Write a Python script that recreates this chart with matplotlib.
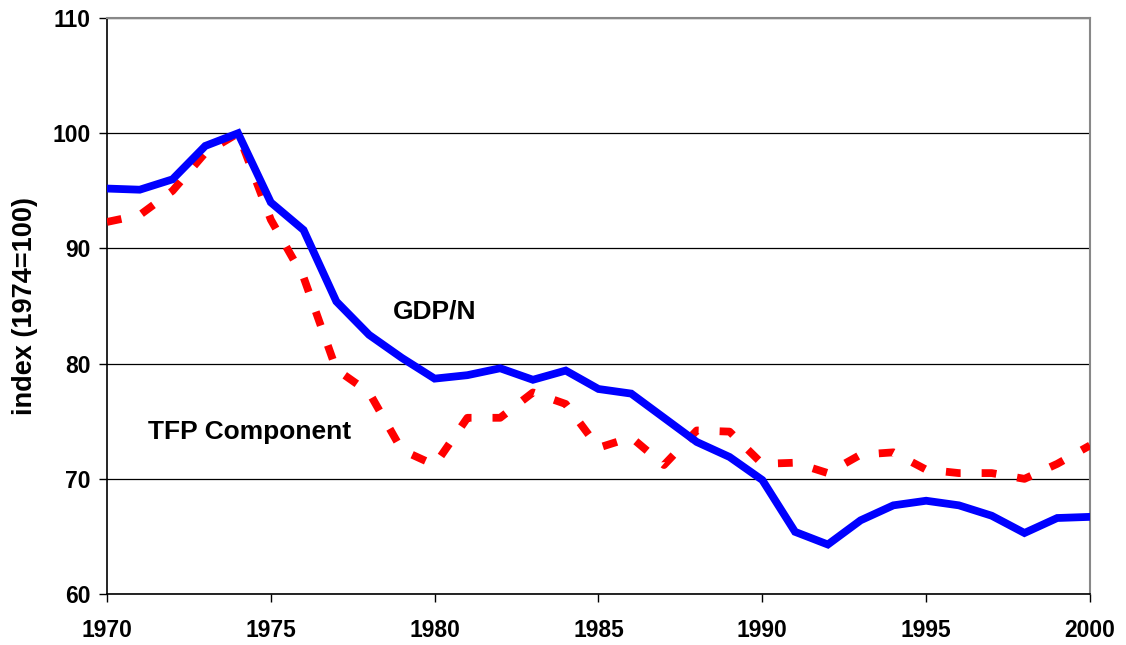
import matplotlib.pyplot as plt
import numpy as np

plt.rcParams['font.family'] = ['Liberation Sans', 'DejaVu Sans']

years = np.arange(1970, 2001)

# real GDP per capita relative to US, 1974=100
gdp_n = [95.2, 95.1, 96.0, 98.9, 100.0, 94.0, 91.6, 85.4, 82.5, 80.5,
         78.7, 79.0, 79.6, 78.6, 79.4, 77.8, 77.4, 75.3, 73.2, 71.9,
         69.9, 65.4, 64.3, 66.4, 67.7, 68.1, 67.7, 66.8, 65.3, 66.6, 66.7]

# TFP component
tfp = [92.3, 92.9, 95.0, 98.3, 100.0, 92.5, 87.5, 79.5, 77.5, 72.5,
       71.2, 75.3, 75.3, 77.5, 76.5, 72.7, 73.6, 71.2, 74.2, 74.1,
       71.3, 71.4, 70.5, 72.1, 72.3, 70.8, 70.5, 70.5, 70.0, 71.3, 72.9]

fig = plt.figure(figsize=(11.26, 6.45), dpi=100)
ax = fig.add_axes([0.095, 0.079, 0.873, 0.893])

ax.plot(years, tfp, color='#ff0000', lw=5.6, dashes=(1.9, 2.7),
        dash_capstyle='butt', zorder=3)
ax.plot(years, gdp_n, color='#0000ff', lw=5.6, solid_joinstyle='miter', zorder=4)

ax.set_xlim(1970, 2000)
ax.set_ylim(60, 110)
ax.set_xticks(np.arange(1970, 2001, 5))
ax.set_yticks(np.arange(60, 111, 10))
ax.yaxis.grid(True, color='black', lw=0.9)
ax.set_axisbelow(True)

ax.tick_params(axis='both', direction='out', length=6, width=1,
               labelsize=16.5, pad=6)
for lab in ax.get_xticklabels() + ax.get_yticklabels():
    lab.set_fontweight('bold')
ax.tick_params(axis='x', pad=12)

for s in ['left', 'bottom']:
    ax.spines[s].set_color('black')
    ax.spines[s].set_linewidth(1.2)
for s in ['top', 'right']:
    ax.spines[s].set_color('#888888')
    ax.spines[s].set_linewidth(1.5)

ax.set_ylabel('index (1974=100)', fontsize=19.5, fontweight='bold', labelpad=10)

ax.text(1980.0, 84.5, 'GDP/N', fontsize=19, fontweight='bold',
        ha='center', va='center')
ax.text(1974.36, 74.1, 'TFP Component', fontsize=19, fontweight='bold',
        ha='center', va='center')

fig.savefig('out.png', dpi=100)
